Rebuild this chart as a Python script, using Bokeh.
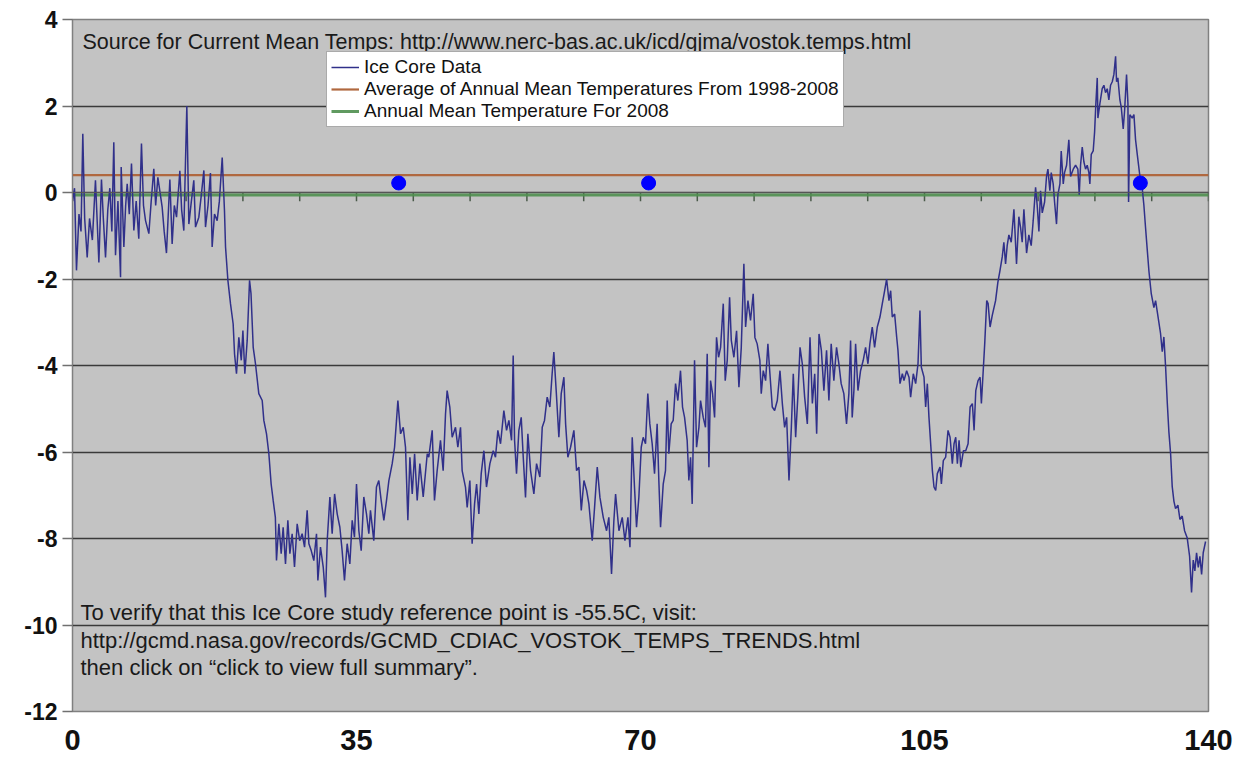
from bokeh.plotting import figure
from bokeh.models import FixedTicker, Legend, LegendItem, Label, Span, Range1d
from bokeh.embed import file_html
from bokeh.resources import INLINE

# ---------------- data ----------------
kyr_ago = [
    0.0, 0.25, 0.49, 0.8, 1.05, 1.27, 1.5, 1.81, 2.1, 2.45, 2.83, 3.05, 3.25, 3.57, 3.8, 4.07, 4.35, 4.6, 4.85, 5.09,
    5.3, 5.6, 5.92, 6.0, 6.33, 6.55, 6.74, 7.0, 7.27, 7.56, 7.85, 8.17, 8.5, 8.75, 9.0, 9.41, 9.7, 10.02, 10.25, 10.52,
    11.05, 11.3, 11.58, 12.0, 12.28, 12.55, 12.82, 13.23, 13.45, 13.72, 14.09, 14.34, 14.65, 14.95, 15.16, 15.57, 15.85,
    16.19, 16.39, 16.7, 17.0, 17.21, 17.5, 17.83, 18.1, 18.45,
    18.73, 18.86, 19.15, 19.47, 19.8, 19.97, 20.21, 20.5, 20.8, 21.0, 21.24, 21.53, 21.82, 22.0, 22.27, 22.55, 22.96,
    23.38, 23.58, 23.91, 24.2, 24.48, 24.73, 25.0, 25.14, 25.43, 25.72, 25.96, 26.25, 26.54, 26.79, 27.07, 27.36, 27.69,
    28.0, 28.3, 28.6, 28.92, 29.13, 29.42, 29.74, 30.07, 30.24, 30.56, 30.9, 31.18, 31.39, 31.72, 32.0, 32.3, 32.62,
    32.95, 33.23, 33.52, 33.85, 34.18, 34.47, 34.75, 35.0, 35.29, 35.58, 35.9, 36.23, 36.52, 36.72, 37.13, 37.46, 37.75,
    38.04, 38.37, 38.7, 38.99, 39.4, 39.69, 39.93, 40.1, 40.43, 40.76, 41.04, 41.33, 41.58, 41.87, 42.16, 42.48, 42.81,
    43.22, 43.72,
    43.91, 44.33, 44.61, 44.94, 45.35, 45.68, 45.97, 46.17, 46.5, 46.79, 47.2, 47.49, 47.82, 48.02, 48.43, 48.64, 48.97,
    49.25, 49.55, 49.8, 50.08, 50.37, 50.7, 51.02, 51.44, 51.85, 52.13, 52.42, 52.75, 53.16, 53.49, 53.78, 54.11, 54.31,
    54.48, 54.72, 55.01, 55.3, 55.55, 55.83, 56.12, 56.45, 56.86, 57.19, 57.6, 57.89, 58.17, 58.5, 58.83, 59.11, 59.32,
    59.61, 59.94, 60.23, 60.56, 60.77, 61.05, 61.38, 61.79, 62.12, 62.41, 62.7, 63.03, 63.36, 63.64, 64.05, 64.34, 64.67,
    65.0, 65.41, 65.82, 66.1, 66.43, 66.72, 66.93, 67.34, 67.75, 68.08, 68.45, 68.7, 68.98,
    69.26, 69.51, 69.8, 70.09, 70.33, 70.62, 70.9, 71.15, 71.44, 71.73, 72.05, 72.26, 72.47, 72.8, 73.08, 73.29, 73.49,
    73.78, 74.03, 74.32, 74.6, 74.93, 75.18, 75.43, 75.75, 75.96, 76.17, 76.37, 76.66, 76.91, 77.2, 77.4, 77.73, 78.01,
    78.22, 78.43, 78.63, 78.88, 79.13, 79.37, 79.62, 79.87, 80.2, 80.44, 80.69, 80.98, 81.19, 81.51, 81.84, 82.13, 82.42,
    82.74, 82.95, 83.24, 83.56, 83.89, 84.1, 84.38, 84.71, 84.88, 85.13, 85.42, 85.7, 85.95, 86.24, 86.53, 86.86, 87.19,
    87.48, 87.76, 88.01, 88.3, 88.59, 88.83, 89.12, 89.41, 89.66, 89.94, 90.23, 90.56, 90.89, 91.18, 91.47, 91.71, 92.0,
    92.29, 92.6, 92.93, 93.22, 93.5, 93.83, 94.16, 94.45, 94.73, 95.06, 95.39, 95.68, 95.89, 96.09, 96.3, 96.51, 96.8,
    97.12, 97.45, 97.74, 98.03, 98.27, 98.56, 98.85, 99.18, 99.51, 99.8, 100.09, 100.33, 100.62, 100.83, 101.03, 101.32,
    101.57, 101.73, 101.98, 102.27, 102.47, 102.8, 103.09, 103.29, 103.62, 103.91, 104.2, 104.44, 104.61, 104.94, 105.14,
    105.35, 105.55, 105.76, 105.97, 106.17, 106.38, 106.58, 106.91, 107.08, 107.32, 107.61, 107.9, 108.15, 108.43,
    108.64, 108.85, 109.05, 109.26, 109.47, 109.8, 110.08, 110.37, 110.62, 110.9, 111.11, 111.32, 111.6, 111.85, 112.01,
    112.26, 112.42, 112.67, 112.84, 113.08,
    113.35, 113.76, 114.04, 114.29, 114.58, 114.78, 114.99, 115.19, 115.4, 115.69, 116.02, 116.34, 116.63, 116.84,
    117.04, 117.25, 117.58, 117.86, 118.15, 118.4, 118.69, 118.89, 119.1, 119.3, 119.51, 119.8, 120.04, 120.21, 120.45,
    120.62, 120.86, 121.03, 121.27, 121.44, 121.69, 121.85, 122.1, 122.26, 122.51, 122.79, 123.0, 123.33, 123.62, 123.9,
    124.07, 124.23, 124.44, 124.64, 124.85, 125.05, 125.26, 125.38, 125.55, 125.79, 125.96, 126.12, 126.29, 126.37,
    126.62, 126.9, 127.11, 127.31, 127.52, 127.72, 127.93, 128.14, 128.34, 128.55, 128.67, 128.83, 129.08, 129.25,
    129.49, 129.66, 129.9, 130.07, 130.15, 130.31, 130.6, 130.81, 131.01, 131.22, 131.55, 131.83, 132.04, 132.24, 132.45,
    132.66, 132.94, 133.27, 133.48, 133.68, 134.09, 134.3, 134.5, 134.71, 134.92, 135.12, 135.33, 135.53, 135.74, 135.94,
    136.23, 136.48, 136.76, 137.05, 137.38, 137.67, 137.91, 138.12, 138.32, 138.53, 138.74, 138.94, 139.15, 139.35,
    139.64,
]
temp_diff = [
    -0.2, 0.1, -1.8, -0.5, -0.9, 1.36, -0.6, -1.5, -0.6, -1.1, 0.28, -0.7, -1.62, 0.3, -0.6, -1.5, -0.4, 0.1, -0.9, 1.16,
    -1.45, -0.2, -1.96, 0.59, -1.26, -0.3, 0.2, -0.5, 0.67, -0.88, -0.2, -1.07, 1.13, -0.3, -0.65, -0.95, -0.2, 0.55,
    -0.3, 0.35, -0.34, -0.9, -1.4, 0.3, -1.19, -0.3, -0.57, 0.5, -0.4, -0.88, 2.0, -0.73, -0.2, 0.28, -0.8, -0.57, -0.1,
    0.51, -0.8, -0.3, 0.45, -1.26, -0.5, -0.65, -0.2, 0.81,
    -0.42, -1.26, -2.03, -2.57, -3.04, -3.73, -4.19, -3.35, -3.88, -3.19, -4.19, -3.42, -2.03, -2.34, -3.58, -3.96, -4.65,
    -4.81, -5.27, -5.58, -6.04, -6.74, -7.12, -7.51, -8.51, -7.66, -8.35, -7.74, -8.59, -7.58, -8.35, -7.89, -8.66, -7.66,
    -8.05, -7.89, -8.2, -7.35, -8.12, -8.28, -8.51, -7.89, -8.97, -8.2, -8.66, -9.36, -8.05, -7.04, -7.89, -6.97, -7.43,
    -7.74, -8.28, -8.97, -8.12, -8.59, -7.58, -7.97, -6.74, -7.82, -8.28, -7.04, -7.43, -7.89, -7.35, -8.05, -6.81, -6.66,
    -7.12, -7.58, -7.12, -6.66, -6.27, -5.89, -5.27, -4.81, -5.58, -5.43, -5.89, -7.58, -6.12, -6.97, -6.04, -7.12, -6.27,
    -7.04, -6.04,
    -6.12, -5.5, -7.12, -6.43, -5.73, -6.43, -5.12, -4.58, -4.96, -5.66, -5.43, -5.89, -5.43, -6.43, -6.81, -7.28, -6.66,
    -8.12, -7.2, -6.74, -7.43, -6.5, -5.97, -6.81, -6.27, -5.97, -6.12, -5.5, -5.81, -5.04, -5.5, -5.27, -5.73, -3.77,
    -5.73, -6.5, -5.5, -5.2, -6.12, -7.05, -5.58, -6.43, -6.97, -6.27, -6.58, -5.43, -5.27, -4.73, -4.96, -4.19, -3.69,
    -4.58, -5.66, -4.65, -4.27, -5.35, -6.12, -5.89, -5.5, -6.43, -6.35, -7.35, -6.66, -6.89, -7.2, -8.05, -7.28, -6.35,
    -7.05, -7.51, -7.82, -7.51, -8.82, -7.58, -6.97, -7.82, -7.51, -8.05, -7.51, -8.2, -5.66,
    -6.81, -7.74, -7.04, -5.89, -5.66, -5.81, -4.65, -5.35, -5.81, -6.5, -5.35, -6.66, -7.74, -6.74, -6.43, -4.81, -6.04,
    -5.35, -5.27, -4.42, -4.81, -4.12, -4.96, -5.2, -5.73, -6.66, -6.12, -7.2, -3.88, -5.89, -5.43, -4.81, -5.2, -5.43,
    -3.73, -6.35, -4.35, -4.65, -5.2, -3.35, -3.81, -3.58, -2.57, -4.35, -3.88, -2.42, -3.42, -3.81, -3.2, -4.5, -3.58,
    -1.65, -3.11, -2.5, -2.96, -2.34, -3.35, -3.5, -3.88, -4.65, -4.12, -4.35, -3.5, -4.19, -4.96, -5.04, -4.81, -4.12,
    -4.88, -5.43, -5.2, -6.66, -5.43, -4.19, -5.66, -4.65, -3.58, -3.96, -4.73, -5.35, -3.35, -4.88, -4.19, -5.58, -3.27,
    -3.65, -4.58, -3.65, -4.81, -3.5, -4.35, -3.58, -3.96, -4.42, -4.65, -5.35, -4.65, -3.42, -5.2, -4.58, -3.5, -4.58,
    -4.12, -3.88, -3.58, -3.96, -3.5, -3.11, -3.58, -3.11, -2.88, -2.57, -2.27, -2.0, -2.5, -2.27, -2.88, -2.81,
    -3.34, -3.65, -4.42, -4.19, -4.35, -4.12, -4.27, -4.73, -4.19, -4.42, -3.96, -2.73, -4.04, -4.27, -4.96,
    -4.42, -5.2, -5.81, -6.43, -6.81, -6.89, -6.5, -6.35, -6.74, -6.2, -6.12, -5.5, -5.66, -6.27,
    -5.81, -5.66, -6.27, -5.73, -6.35, -5.97, -5.97, -5.81, -4.96, -4.88, -5.5, -4.58, -4.35, -4.27, -4.88,
    -4.04, -3.5, -2.5, -2.57, -3.11,
    -2.84, -2.5, -2.08, -1.82, -1.49, -1.15, -1.65, -1.23, -0.98, -1.15, -0.39, -1.65, -0.56, -0.81,
    -1.15, -0.39, -1.4, -0.98, -1.23, -0.64, 0.12, -0.3, -0.9, 0.04, -0.47, -0.22, 0.37, 0.54, 0.04,
    0.46, 0.2, -0.22, -0.73, -0.05, 0.2, 0.96, 0.2, 0.46, 0.63, 1.22, 0.37, 0.54, 0.63, 0.54,
    -0.05, 0.63, 1.05, 0.71, 0.54, 0.63, 0.46, 0.2, 0.88, 0.96, 1.39, 2.06, 2.65, 1.72,
    2.06, 2.4, 2.48, 2.31, 2.4, 2.14, 2.48, 2.56, 2.73, 3.15, 2.56, 2.65, 2.14, 1.97,
    1.47, 1.89, 2.73, 2.06, -0.22, 1.8, 1.72, 1.8, 1.22, 0.88, 0.37, 0.1, -0.3, -0.81, -1.32,
    -1.82, -2.33, -2.66, -2.5, -2.75, -3.26, -3.68, -3.34, -4.02, -4.86, -5.54, -6.04, -6.8, -7.14, -7.31,
    -7.23, -7.56, -7.48, -7.82, -7.99, -8.41, -9.25, -8.5, -8.75, -8.33, -8.67, -8.41, -8.83, -8.33,
    -8.07,
]

avg_1998_2008 = 0.4
mean_2008 = -0.06
dot_x = [40.2, 71.0, 131.6]
dot_y = [0.22, 0.22, 0.22]

x_ticks = [0, 35, 70, 105, 140]
y_ticks = [-12, -10, -8, -6, -4, -2, 0, 2, 4]
zero_axis_ticks = list(range(0, 141, 7))

x_lo, x_hi = 0, 140
y_lo, y_hi = -12, 4

source_text = "Source for Current Mean Temps: http://www.nerc-bas.ac.uk/icd/gjma/vostok.temps.html"
note_lines = [
    "To verify that this Ice Core study reference point is -55.5C, visit:",
    "http://gcmd.nasa.gov/records/GCMD_CDIAC_VOSTOK_TEMPS_TRENDS.html",
    "then click on \u201cclick to view full summary\u201d.",
]
legend_labels = [
    "Ice Core Data",
    "Average of Annual Mean Temperatures From 1998-2008",
    "Annual Mean Temperature For 2008",
]

FONT = "Liberation Sans"

# ---------------- figure ----------------
p = figure(frame_width=1136, frame_height=692,
           x_range=Range1d(x_lo, x_hi), y_range=Range1d(y_lo, y_hi),
           output_backend="svg", toolbar_location=None,
           min_border_left=72, min_border_right=40, min_border_top=19, min_border_bottom=49)
p.background_fill_color = "#c3c3c3"
p.border_fill_color = "white"
p.outline_line_color = "#808080"
p.outline_line_width = 1.5

p.xgrid.visible = False
p.ygrid.ticker = FixedTicker(ticks=y_ticks)
p.ygrid.grid_line_color = "#3a3a3a"
p.ygrid.grid_line_width = 1.4

p.yaxis.ticker = FixedTicker(ticks=y_ticks)
p.yaxis.major_label_overrides = {t: str(t) for t in y_ticks}
p.yaxis.major_label_text_font = FONT
p.yaxis.major_label_text_font_style = "bold"
p.yaxis.major_label_text_font_size = "23px"
p.yaxis.major_label_text_color = "#111111"
p.yaxis.major_tick_out = 10
p.yaxis.major_tick_in = 0
p.yaxis.major_tick_line_color = "#707070"
p.yaxis.major_tick_line_width = 1.5
p.yaxis.minor_tick_line_color = None
p.yaxis.axis_line_color = "#808080"
p.yaxis.major_label_standoff = 5

p.xaxis.ticker = FixedTicker(ticks=x_ticks)
p.xaxis.major_label_overrides = {t: str(t) for t in x_ticks}
p.xaxis.major_label_text_font = FONT
p.xaxis.major_label_text_font_style = "bold"
p.xaxis.major_label_text_font_size = "29px"
p.xaxis.major_label_text_color = "#111111"
p.xaxis.major_tick_line_color = None
p.xaxis.minor_tick_line_color = None
p.xaxis.axis_line_color = None
p.xaxis.major_label_standoff = 12

# zero axis (category axis crossing at 0)
p.add_layout(Span(location=0, dimension="width", line_color="#555555", line_width=1.2))
p.segment(x0=zero_axis_ticks, y0=[0.0] * len(zero_axis_ticks),
          x1=zero_axis_ticks, y1=[-0.2] * len(zero_axis_ticks),
          line_color="#4a5a4a", line_width=1.5)

r_green = p.line(x=[x_lo, x_hi], y=[mean_2008, mean_2008], line_color="#4f8f4f", line_width=3, line_alpha=0.9)
r_orange = p.line(x=[x_lo, x_hi], y=[avg_1998_2008, avg_1998_2008], line_color="#b0683f", line_width=2.2)
r_ice = p.line(x=kyr_ago, y=temp_diff, line_color="#30308a", line_width=1.5)

p.scatter(x=dot_x, y=dot_y, size=14, color="#0000ff")

# ---------------- legend ----------------
legend = Legend(items=[LegendItem(label=legend_labels[0], renderers=[r_ice]),
                       LegendItem(label=legend_labels[1], renderers=[r_orange]),
                       LegendItem(label=legend_labels[2], renderers=[r_green])],
                location=(254, 584), orientation="vertical",
                background_fill_color="white", background_fill_alpha=1.0,
                border_line_color="#555555", border_line_width=1.2,
                label_text_font=FONT, label_text_font_size="19px", label_text_color="#111111",
                glyph_width=28, glyph_height=20, label_height=20, spacing=0,
                padding=4, margin=0, label_standoff=5)
p.add_layout(legend)

# ---------------- annotations ----------------
p.add_layout(Label(x=10, y=670, x_units="screen", y_units="screen", text=source_text,
                   text_font=FONT, text_font_size="21.5px", text_color="#1a1a1a",
                   text_baseline="middle"))
for line, yy in zip(note_lines, [99, 71, 44]):
    p.add_layout(Label(x=8, y=yy, x_units="screen", y_units="screen", text=line,
                       text_font=FONT, text_font_size="22px", text_color="#1a1a1a",
                       text_baseline="middle"))

open("out.html", "w").write(file_html(p, INLINE))
